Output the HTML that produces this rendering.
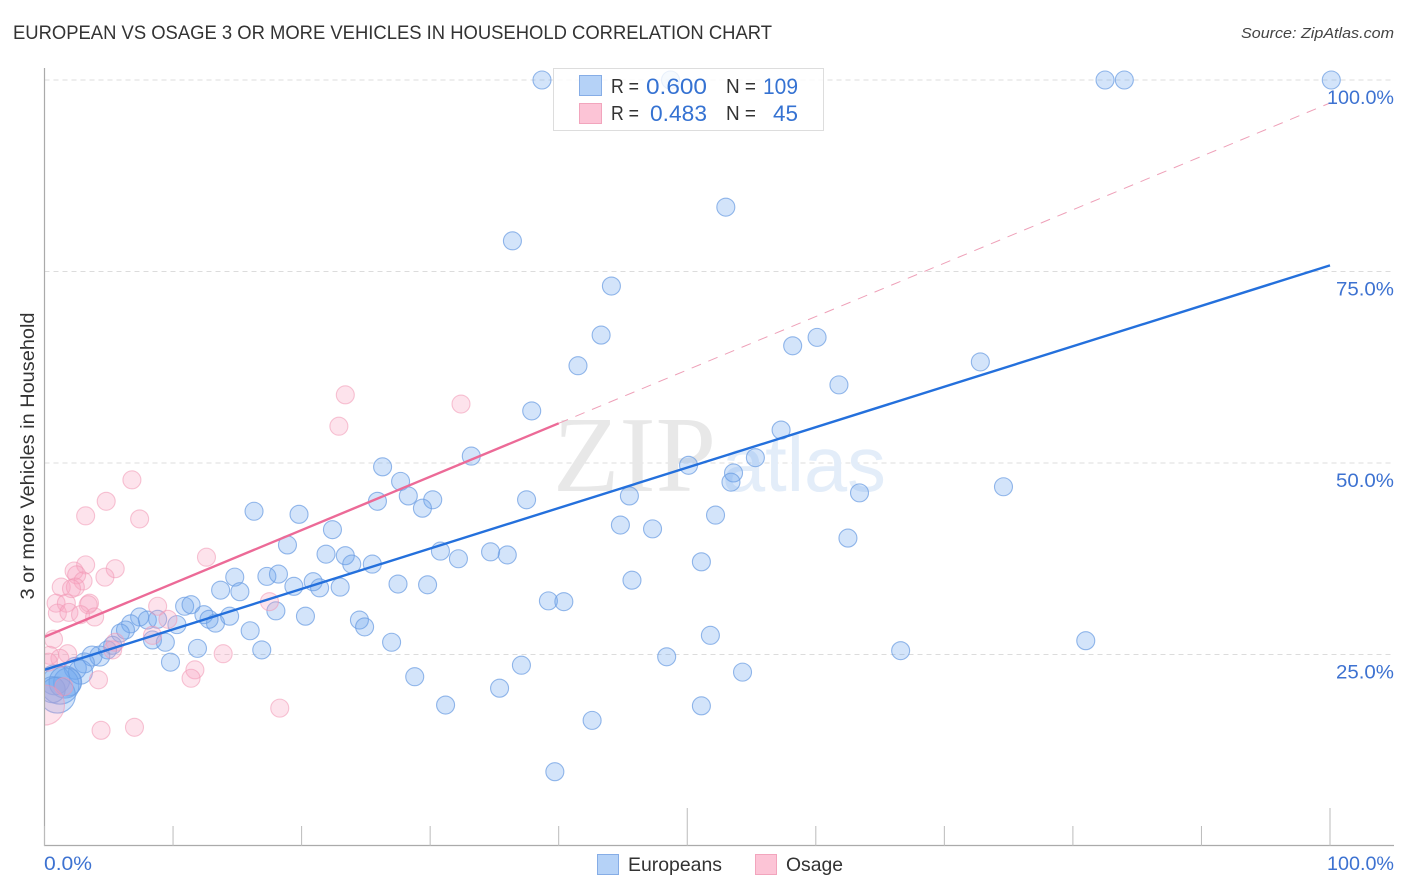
<!DOCTYPE html>
<html>
<head>
<meta charset="utf-8">
<title>European vs Osage correlation chart</title>
<style>
html,body{margin:0;padding:0;background:#fff;width:1406px;height:892px;overflow:hidden}
svg{display:block;font-family:"Liberation Sans",sans-serif}
</style>
</head>
<body>
<svg id="chart" width="1406" height="892" viewBox="0 0 1406 892" xmlns="http://www.w3.org/2000/svg">
  <defs><clipPath id="plot-clip"><rect x="44.5" y="60" width="1350" height="786"/></clipPath></defs>
  <rect x="0" y="0" width="1406" height="892" fill="#fff"/>
  <text x="13" y="39" font-size="19" fill="#333" textLength="759" lengthAdjust="spacingAndGlyphs">EUROPEAN VS OSAGE 3 OR MORE VEHICLES IN HOUSEHOLD CORRELATION CHART</text>
  <text x="1394" y="38" font-size="15" font-style="italic" fill="#444" text-anchor="end" textLength="153" lengthAdjust="spacingAndGlyphs">Source: ZipAtlas.com</text>
  <text transform="translate(34,456) rotate(-90)" font-size="19" fill="#333" text-anchor="middle" textLength="287" lengthAdjust="spacingAndGlyphs">3 or more Vehicles in Household</text>
  <g id="grid"></g>
  <g>
    <text x="553" y="491" font-family="'Liberation Serif',serif" font-size="108" fill="#e8e8e8" textLength="163" lengthAdjust="spacingAndGlyphs">ZIP</text>
    <text x="722" y="491" font-size="78" fill="#e3edf9" textLength="164" lengthAdjust="spacingAndGlyphs">atlas</text>
  </g>
  <g id="points" clip-path="url(#plot-clip)"></g>
  <g id="trends"></g>
  <g id="axes"></g>
  <g id="tick-labels"></g>

  <g>
    <rect x="553.5" y="68.5" width="270" height="62" fill="#fff" fill-opacity="0.8" stroke="#ddd" stroke-width="1"/>
    <rect x="579.5" y="75.5" width="22" height="20" fill="#b5d2f7" stroke="#86ade6"/>
    <rect x="579.5" y="103.5" width="22" height="20" fill="#fcc4d6" stroke="#f2a5bd"/>
    <text x="611" y="93" font-size="20" fill="#333" textLength="28" lengthAdjust="spacingAndGlyphs">R =</text>
    <text x="646" y="94" font-size="22" fill="#3572d2" textLength="61" lengthAdjust="spacingAndGlyphs">0.600</text>
    <text x="726" y="93" font-size="20" fill="#333" textLength="30" lengthAdjust="spacingAndGlyphs">N =</text>
    <text x="763" y="94" font-size="22" fill="#3572d2" textLength="35" lengthAdjust="spacingAndGlyphs">109</text>
    <text x="611" y="120" font-size="20" fill="#333" textLength="28" lengthAdjust="spacingAndGlyphs">R =</text>
    <text x="650" y="121" font-size="22" fill="#3572d2" textLength="57" lengthAdjust="spacingAndGlyphs">0.483</text>
    <text x="726" y="120" font-size="20" fill="#333" textLength="30" lengthAdjust="spacingAndGlyphs">N =</text>
    <text x="773" y="121" font-size="22" fill="#3572d2" textLength="25" lengthAdjust="spacingAndGlyphs">45</text>
  </g>

  <g>
    <g>
      <rect x="597.5" y="854.5" width="21" height="20" fill="#b5d2f7" stroke="#86ade6"/>
      <text x="628" y="871" font-size="19.5" fill="#333" textLength="94" lengthAdjust="spacingAndGlyphs">Europeans</text>
    </g>
    <g>
      <rect x="755.5" y="854.5" width="21" height="20" fill="#fcc4d6" stroke="#f2a5bd"/>
      <text x="786" y="871" font-size="19.5" fill="#333" textLength="57" lengthAdjust="spacingAndGlyphs">Osage</text>
    </g>
  </g>
</svg>
<script>
const europeanX = [38.7,48.7,82.5,84.0,100.1,53.0,36.4,44.1,43.3,41.5,58.2,60.1,61.8,72.8,37.9,57.3,33.2,26.3,27.7,28.3,25.9,30.2,29.4,37.5,50.1,53.6,53.4,55.3,45.5,63.4,74.6,52.2,44.8,47.3,62.5,16.3,19.8,22.4,18.9,21.9,23.4,23.9,25.5,30.8,32.2,34.7,36.0,51.1,45.7,17.3,18.2,14.8,13.7,15.2,19.4,20.9,21.4,23.0,27.5,29.8,39.2,40.4,18.0,20.3,24.5,24.9,27.0,51.8,81.0,66.6,16.0,16.9,14.4,12.4,13.3,12.8,10.9,11.4,10.3,7.4,8.0,8.8,6.7,6.3,5.9,8.4,9.4,11.9,9.8,48.4,37.1,54.3,28.8,35.4,31.2,51.1,42.6,39.7,5.3,4.9,4.3,3.7,3.1,2.4,2.8,1.8,0.8,1.2,1.6,0.6,1.0];
const europeanY = [100,100,100,100,100,83.4,79.0,73.1,66.7,62.7,65.3,66.4,60.2,63.2,56.8,54.3,50.9,49.5,47.6,45.7,45.0,45.2,44.1,45.2,49.7,48.7,47.5,50.7,45.7,46.1,46.9,43.2,41.9,41.4,40.2,43.7,43.3,41.3,39.3,38.1,37.9,36.8,36.8,38.5,37.5,38.4,38.0,37.1,34.7,35.2,35.5,35.1,33.4,33.2,33.9,34.5,33.7,33.8,34.2,34.1,32.0,31.9,30.7,30.0,29.5,28.6,26.6,27.5,26.8,25.5,28.1,25.6,30.0,30.2,29.1,29.6,31.3,31.5,28.9,29.9,29.5,29.6,29.0,28.2,27.8,26.9,26.6,25.8,24.0,24.7,23.6,22.7,22.1,20.6,18.4,18.3,16.4,9.7,26.2,25.6,24.8,24.8,23.9,23.2,22.7,21.4,21.7,21.0,21.4,20.4,19.7];
const europeanWeight = [9,9,9,9,9,9,9,9,9,9,9,9,9,9,9,9,9,9,9,9,9,9,9,9,9,9,9,9,9,9,9,9,9,9,9,9,9,9,9,9,9,9,9,9,9,9,9,9,9,9,9,9,9,9,9,9,9,9,9,9,9,9,9,9,9,9,9,9,9,9,9,9,9,9,9,9,9,9,9,9,9,9,9,9,9,9,9,9,9,9,9,9,9,9,9,9,9,9,9,9,10,10,10,11,12,14,15,19,16,13,18];
const osageX = [23.4,22.9,32.4,6.8,4.8,3.2,7.4,12.6,3.2,2.3,5.5,2.5,3.0,4.7,1.3,2.4,2.1,0.9,1.7,3.5,3.4,1.0,1.9,2.8,3.9,8.8,9.6,17.5,8.4,0.7,5.5,5.3,0.4,1.8,1.2,0.3,13.9,11.7,11.4,4.2,1.5,18.3,4.4,7.0,0.0];
const osageY = [58.9,54.8,57.7,47.8,45.0,43.1,42.7,37.7,36.7,35.9,36.2,35.4,34.6,35.1,33.8,33.8,33.6,31.7,31.7,31.7,31.5,30.4,30.5,30.2,29.9,31.3,29.6,31.9,27.5,27.0,26.6,25.6,24.9,25.1,24.5,24.0,25.1,23.0,21.9,21.7,20.8,18.0,15.1,15.5,18.4];
const osageWeight = [9,9,9,9,9,9,9,9,9,9,9,9,9,9,9,9,9,9,9,9,9,9,9,9,9,9,9,9,9,9,9,9,9,9,9,9,9,9,9,9,9,9,9,9,20];
const yTicks = [25,50,75,100];
const yTickLabels = ["25.0%","50.0%","75.0%","100.0%"];
const xTicks = [0,10,20,30,40,50,60,70,80,90,100];
const xMajorTicks = [50,100];
const europeanTrend = [23.0,75.8];
const osageTrend = [27.3,97.0];
const osageSolidEnd = 40;

const NS = "http://www.w3.org/2000/svg";
const sx = v => 44.5 + v * 12.855;
const sy = v => 846 - v * 7.66;
function make(parent, tag, attrs, text) {
  const el = document.createElementNS(NS, tag);
  for (const k in attrs) el.setAttribute(k, attrs[k]);
  if (text !== undefined) el.textContent = text;
  document.getElementById(parent).appendChild(el);
  return el;
}

yTicks.forEach((t, i) => {
  const g = make("grid", "line", {x1: 44.5, x2: 1394, y1: sy(t), y2: sy(t), stroke: "#dcdcdc", "stroke-width": 1, "stroke-dasharray": "5 4"});
  
  
  const w = yTickLabels[i].length > 5 ? 67 : 58;
  const l = make("tick-labels", "text", {x: 1394 - w, y: sy(t) + 24, "font-size": 19.5, fill: "#3d72d1", textLength: w, lengthAdjust: "spacingAndGlyphs"}, yTickLabels[i]);
  
  
});

europeanX.forEach((x, i) => {
  const c = make("points", "circle", {cx: sx(x), cy: sy(europeanY[i]), r: europeanWeight[i], fill: "#6ea6ee", "fill-opacity": 0.3, stroke: "#6b9de2", "stroke-opacity": 0.72, "stroke-width": 1.1});
  
  
});
osageX.forEach((x, i) => {
  const c = make("points", "circle", {cx: sx(x), cy: sy(osageY[i]), r: osageWeight[i], fill: "#f8a3bf", "fill-opacity": 0.3, stroke: "#f095b2", "stroke-opacity": 0.55, "stroke-width": 1.1});
  
  
});

const osageAt = x => osageTrend[0] + (osageTrend[1] - osageTrend[0]) * x / 100;
const dashed = make("trends", "line", {x1: sx(osageSolidEnd), y1: sy(osageAt(osageSolidEnd)), x2: sx(100), y2: sy(osageTrend[1]), stroke: "#eea0b8", "stroke-width": 1, "stroke-dasharray": "10 8"});


const solid = make("trends", "line", {x1: sx(0), y1: sy(osageTrend[0]), x2: sx(osageSolidEnd), y2: sy(osageAt(osageSolidEnd)), stroke: "#ec6a97", "stroke-width": 2.4});


const blue = make("trends", "line", {x1: sx(0), y1: sy(europeanTrend[0]), x2: sx(100), y2: sy(europeanTrend[1]), stroke: "#2470dc", "stroke-width": 2.4});



const yAxis = make("axes", "line", {x1: 44.5, x2: 44.5, y1: 68, y2: 846, stroke: "#aaa", "stroke-width": 1.2});


const xAxis = make("axes", "line", {x1: 44, x2: 1394, y1: 845.5, y2: 845.5, stroke: "#aaa", "stroke-width": 1.2});


xTicks.forEach(t => {
  const tick = make("axes", "line", {x1: sx(t), x2: sx(t), y1: xMajorTicks.includes(t) ? 808 : 826, y2: 846, stroke: "#bbb", "stroke-width": 1});
  
  
});
const x0 = make("tick-labels", "text", {x: 44, y: 870, "font-size": 19.5, fill: "#3d72d1", textLength: 48, lengthAdjust: "spacingAndGlyphs"}, "0.0%");


const x100 = make("tick-labels", "text", {x: 1327, y: 870, "font-size": 19.5, fill: "#3d72d1", textLength: 67, lengthAdjust: "spacingAndGlyphs"}, "100.0%");


</script>
</body>
</html>
